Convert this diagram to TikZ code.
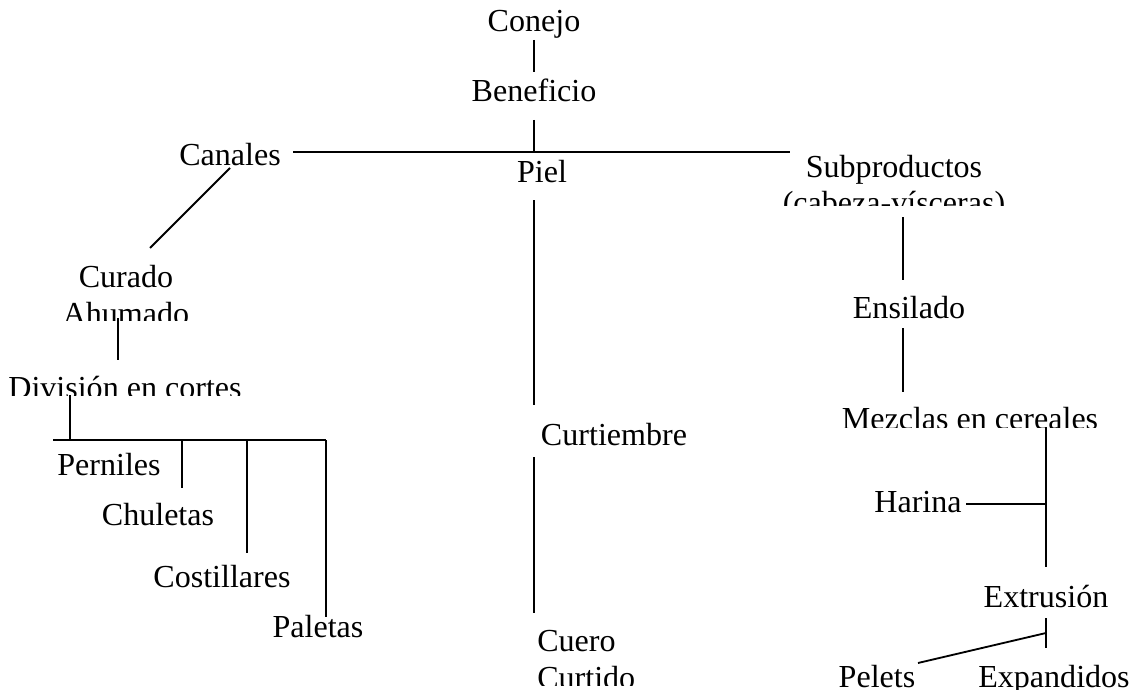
\documentclass[tikz,border=0pt]{standalone}
\usepackage{fontspec}
\setmainfont{Liberation Serif}
\usepackage{tikz}
\usetikzlibrary{calc}

\tikzset{
  lbl/.style={inner sep=0pt, anchor=base, align=center, font=\fontsize{22.8}{25.8}\selectfont},
  rama/.style={black, line width=1.3pt}
}

\begin{document}
\begin{tikzpicture}[x=0.025cm, y=-0.025cm]
\useasboundingbox (0,0) rectangle (1133,690);

\node [lbl] (conejo) at (534,32) {Conejo};
\node [lbl] (benef) at (534,102) {Beneficio};
\node [lbl] (piel) at (542,182) {Piel};
\node [lbl] (canales) at (230,165) {Canales};
\begin{scope}
\clip (760,140) rectangle (1020,205);
\node [lbl] (subp) at (894,214) {Subproductos\\(cabeza-vísceras)};
\end{scope}
\begin{scope}
\clip (40,250) rectangle (220,320);
\node [lbl] (curado) at (126,324) {Curado\\Ahumado};
\end{scope}
\begin{scope}
\clip (0,360) rectangle (260,395);
\node [lbl] (division) at (125,398) {División en cortes};
\end{scope}
\node [lbl] (perniles) at (109,475) {Perniles};
\node [lbl] (chuletas) at (158,525) {Chuletas};
\node [lbl] (costill) at (222,587) {Costillares};
\node [lbl] (paletas) at (318,637) {Paletas};
\node [lbl] (curt) at (614,445) {Curtiembre};
\begin{scope}
\clip (520,610) rectangle (660,685);
\node [lbl, anchor=base west, align=left] (cuero) at (537,688) {Cuero\\Curtido};
\end{scope}
\node [lbl] (ensilado) at (909,318) {Ensilado};
\begin{scope}
\clip (830,395) rectangle (1110,427);
\node [lbl] (mezclas) at (970,429) {Mezclas en cereales};
\end{scope}
\node [lbl] (harina) at (918,512) {Harina};
\node [lbl] (extrusion) at (1046,607) {Extrusión};
\node [lbl] (pelets) at (877,687) {Pelets};
\node [lbl] (expand) at (1054,687) {Expandidos};

\coordinate (trunk) at (534,152);
\coordinate (hL) at (293,152);
\coordinate (hR) at (790,152);
\coordinate (cortesL) at (53,440);
\coordinate (b0) at (70,440);
\coordinate (b1) at (182,440);
\coordinate (b2) at (247,440);
\coordinate (b3) at (326,440);
\coordinate (fork) at (1046,633);

\draw [rama] ($(conejo.base)+(0,8)$) -- ($(benef.base)+(0,-30)$);
\draw [rama] ($(benef.base)+(0,18)$) -- (trunk);
\draw [rama] (hL) -- (hR);
\draw [rama] ($(canales.base)+(0,3)$) -- ($(curado.base)+(24,-76)$);
\draw [rama] ($(piel.base -| trunk)+(0,18)$) -- ($(curt.base -| trunk)+(0,-40)$);
\draw [rama] ($(curt.base -| trunk)+(0,12)$) -- ($(cuero.base -| trunk)+(0,-75)$);

\draw [rama] ($(subp.base)+(9,3)$) -- ($(ensilado.base)+(-6,-38)$);
\draw [rama] ($(ensilado.base)+(-6,10)$) -- ($(mezclas.base)+(-67,-37)$);
\draw [rama] ($(mezclas.base)+(76,-2)$) -- ($(extrusion.base)+(0,-40)$);
\draw [rama] ($(harina.base)+(48,-8)$) -- ($(harina.base -| extrusion.base)+(0,-8)$);
\draw [rama] ($(extrusion.base)+(0,11)$) -- ($(expand.base -| extrusion.base)+(0,-39)$);
\draw [rama] (fork) -- ($(pelets.base)+(41,-24)$);

\draw [rama] ($(curado.base)+(-8,-6)$) -- ($(division.base)+(-7,-38)$);
\draw [rama] ($(division.base)+(-55,-3)$) -- (b0);
\draw [rama] (cortesL) -- (b3);
\draw [rama] (b1) -- ($(b1 |- chuletas.base)+(0,-37)$);
\draw [rama] (b2) -- ($(b2 |- costill.base)+(0,-34)$);
\draw [rama] (b3) -- ($(b3 |- paletas.base)+(0,-20)$);
\end{tikzpicture}
\end{document}
